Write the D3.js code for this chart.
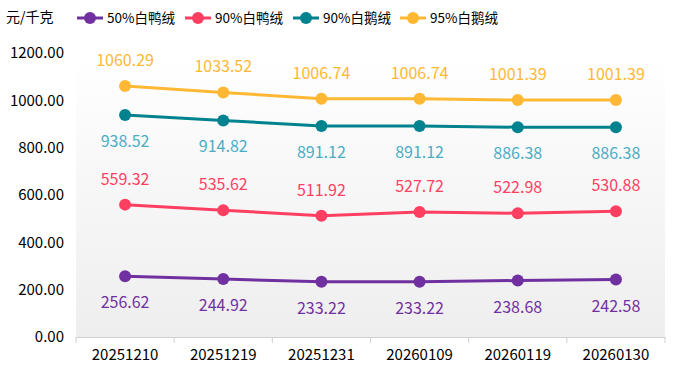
<!DOCTYPE html>
<html><head><meta charset="utf-8">
<script src="https://cdn.jsdelivr.net/npm/d3@7/dist/d3.min.js"></script>
<style>body{margin:0;background:#fff;}svg{display:block;font-family:"Noto Sans CJK SC","Noto Sans",sans-serif;}</style>
</head><body><svg id="c" width="673" height="374"></svg>
<script>
const categories = ["20251210","20251219","20251231","20260109","20260119","20260130"];
const seriesNames = ["50%白鸭绒","90%白鸭绒","90%白鹅绒","95%白鹅绒"];
const duck50 = [256.62,244.92,233.22,233.22,238.68,242.58];
const duck90 = [559.32,535.62,511.92,527.72,522.98,530.88];
const goose90 = [938.52,914.82,891.12,891.12,886.38,886.38];
const goose95 = [1060.29,1033.52,1006.74,1006.74,1001.39,1001.39];
const yTicks = [0,200,400,600,800,1000,1200];

const series = [
  {name: seriesNames[0], values: duck50, color:"#7030a0", label:"#7030a0", pos:"below"},
  {name: seriesNames[1], values: duck90, color:"#ff3f62", label:"#ff3f62", pos:"above"},
  {name: seriesNames[2], values: goose90, color:"#00838f", label:"#4bacc6", pos:"below"},
  {name: seriesNames[3], values: goose95, color:"#ffb833", label:"#ffb833", pos:"above"}
];

const svg = d3.select("#c");
const m = {l:76, r:665, t:53, b:337};
const x = d3.scaleBand().domain(categories).range([m.l, m.r]);
const y = d3.scaleLinear().domain([0,1200]).range([m.b, m.t]);

const defs = svg.append("defs");
const g = defs.append("linearGradient").attr("id","bg").attr("x1",0).attr("y1",0).attr("x2",0).attr("y2",1);
g.append("stop").attr("offset","0%").attr("stop-color","#ffffff");
g.append("stop").attr("offset","100%").attr("stop-color","#eeeeee");
svg.append("rect").attr("x",m.l).attr("y",m.t).attr("width",m.r-m.l).attr("height",m.b-m.t).attr("fill","url(#bg)");

// y labels
svg.append("g").selectAll("text").data(yTicks).join("text")
  .attr("x",64).attr("y",d=>y(d)).attr("dy","0.35em").attr("text-anchor","end")
  .attr("font-size",15).attr("fill","#000").text(d=>d.toFixed(2));

// x axis
const xa = svg.append("g").attr("transform",`translate(0,${m.b})`)
  .call(d3.axisBottom(x).tickSize(0).tickPadding(12));
xa.select(".domain").attr("stroke","#d0d0d0");
xa.selectAll("text").attr("font-size",15).attr("fill","#000").attr("font-family","\"Noto Sans CJK SC\",sans-serif");
const bounds = categories.map(c=>x(c)).concat([m.r]);
svg.append("g").selectAll("line").data(bounds).join("line")
  .attr("x1",d=>d).attr("x2",d=>d).attr("y1",m.b).attr("y2",m.b+6).attr("stroke","#d0d0d0");

// unit
svg.append("text").attr("x",6).attr("y",22).attr("font-size",14).attr("fill","#000").text("元/千克");

const line = d3.line().x((d,i)=>x(categories[i])+x.bandwidth()/2).y(d=>y(d));
series.forEach(s=>{
  const gs = svg.append("g");
  gs.append("path").datum(s.values).attr("d",line).attr("fill","none").attr("stroke",s.color).attr("stroke-width",3);
  gs.selectAll("circle").data(s.values).join("circle")
    .attr("cx",(d,i)=>x(categories[i])+x.bandwidth()/2).attr("cy",d=>y(d)).attr("r",6).attr("fill",s.color);
  gs.selectAll("text").data(s.values).join("text")
    .attr("x",(d,i)=>x(categories[i])+x.bandwidth()/2)
    .attr("y",d=>y(d)+(s.pos==="above"?-20:32))
    .attr("text-anchor","middle").attr("font-size",16).attr("fill",s.label).text(d=>d.toFixed(2));
});

// legend
const lx = [77,185,293,400];
const lg = svg.append("g").selectAll("g").data(series).join("g").attr("transform",(d,i)=>`translate(${lx[i]},18)`);
lg.append("line").attr("x1",0).attr("x2",26).attr("stroke",d=>d.color).attr("stroke-width",3);
lg.append("circle").attr("cx",13).attr("r",6).attr("fill",d=>d.color);
lg.append("text").attr("x",30).attr("dy","0.35em").attr("font-size",13.5).attr("fill","#000").text(d=>d.name);
</script></body></html>
